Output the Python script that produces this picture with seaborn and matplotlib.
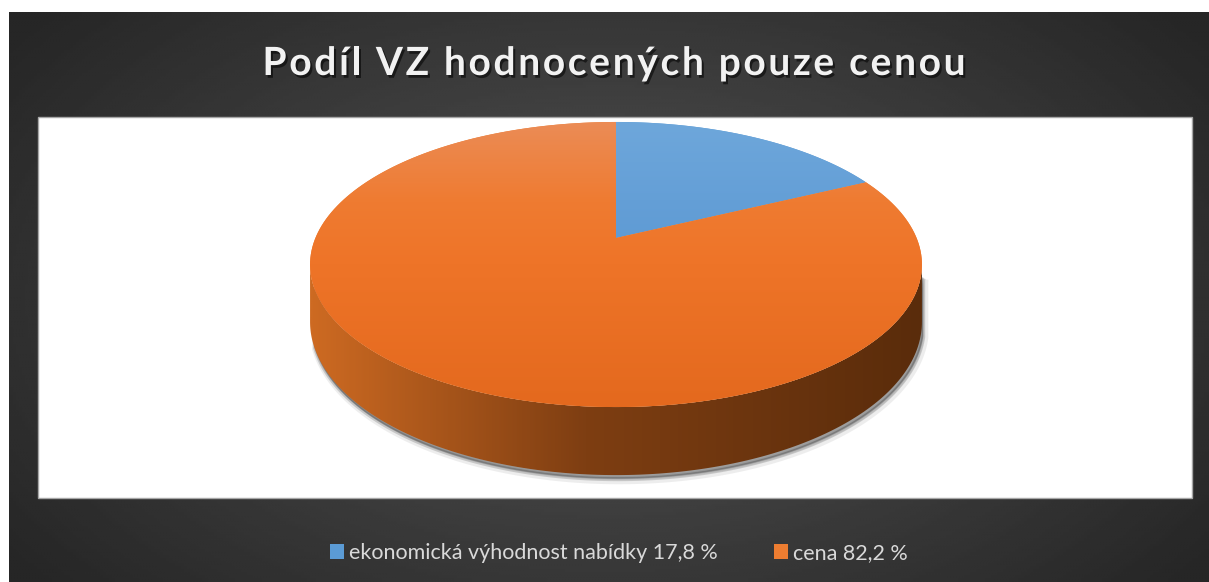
import numpy as np
import matplotlib
matplotlib.use("Agg")
import matplotlib.pyplot as plt
import seaborn as sns
from matplotlib.patches import Polygon, Rectangle, Patch
from matplotlib.colors import LinearSegmentedColormap
from matplotlib.font_manager import FontProperties
import matplotlib.patheffects as pe

# data
labels = ["ekonomická výhodnost nabídky", "cena"]
shares = [17.8, 82.2]
colors = ["#5B9BD5", "#ED7D31"]
title = "Podíl VZ hodnocených pouze cenou"

sns.set_theme(style="white")
plt.rcParams["font.family"] = ["Lato", "DejaVu Sans"]

W, H_PX = 1209, 582
fig = plt.figure(figsize=(W / 100, H_PX / 100), dpi=100, facecolor="white")
ax = fig.add_axes([0, 0, 1, 1])
ax.set_axis_off()

# dark radial background
gx, gy = np.meshgrid(np.linspace(9, W, 400), np.linspace(12, H_PX, 200))
r = np.sqrt(((gx - 610) / 700) ** 2 + ((gy - 300) / 420) ** 2)
bg = np.clip(0.33 - 0.17 * r, 0.15, 0.35)
ax.imshow(bg, extent=[9, W, H_PX, 12], cmap="gray", vmin=0, vmax=1,
          aspect="auto", zorder=0, interpolation="bilinear")

# plot area
ax.add_patch(Rectangle((38, 117), 1154, 381, facecolor="white",
                       edgecolor="#A6A6A6", lw=1, zorder=1))

# 3D pie projection (perspective tilt)
CX, CY, SX, HY, C, T = 616, 238, 300.6, 137.6, 0.186, 55.4


def proj(phi_deg, drop=0.0):
    p = np.radians(phi_deg)
    e, d = np.cos(p), np.sin(p)
    w = 1 + C * d
    return CX + SX * e / w, CY - HY * d / w + drop / w


def arc(a0, a1, n=200, drop=0.0):
    ang = np.linspace(a0, a1, n)
    xs, ys = proj(ang, drop)
    return np.column_stack([xs, ys])


sil = np.degrees(np.arcsin(C))
left_a, right_a = 180 + sil, 360 - sil

# shadow under the side
shadow_pts = np.vstack([arc(left_a + 8, right_a - 4), arc(right_a - 4, left_a + 8, drop=T)])
for dx, dy, lw, a in [(3, 5, 6, 0.10), (2, 4, 3, 0.25), (1.5, 3, 1, 0.35)]:
    ax.add_patch(Polygon(shadow_pts + [dx, dy], closed=True, facecolor="#555555",
                         edgecolor="#555555", lw=lw, alpha=a, zorder=2))

# side band
side = Polygon(np.vstack([arc(left_a, right_a), arc(right_a, left_a, drop=T)]),
               closed=True, facecolor="none", edgecolor="none", zorder=3)
ax.add_patch(side)
side_cmap = LinearSegmentedColormap.from_list(
    "side", [(0, "#CD6A22"), (0.45, "#7E3E12"), (1, "#5A2C0B")])
xgrad = np.linspace(0, 1, 300)[None, :]
xl, _ = proj(left_a)
xr, _ = proj(right_a)
im = ax.imshow(np.repeat(xgrad, 2, axis=0), extent=[xl, xr, 500, 200],
               cmap=side_cmap, aspect="auto", zorder=3, interpolation="bilinear")
im.set_clip_path(side)

# top face wedges
top_grads = {
    "#5B9BD5": [(0, "#6EA7DB"), (1, "#4A8ACB")],
    "#ED7D31": [(0, "#EB8C56"), (0.28, "#EF7B31"), (0.5, "#EE7428"), (1, "#E4691E")],
}
start = 90.0
_, ytop = proj(90)
_, ybot = proj(270)
for lab, val, col in zip(labels, shares, colors):
    sweep = 360 * val / 100
    pts = np.vstack([[CX, CY], arc(start, start - sweep)])
    wedge = Polygon(pts, closed=True, facecolor=col, edgecolor="none", zorder=4)
    ax.add_patch(wedge)
    cm = LinearSegmentedColormap.from_list(lab, top_grads[col])
    ygrad = np.linspace(0, 1, 300)[:, None]
    g = ax.imshow(np.repeat(ygrad, 2, axis=1), extent=[300, 935, ybot, ytop],
                  cmap=cm, aspect="auto", zorder=4, interpolation="bilinear")
    g.set_clip_path(wedge)
    start -= sweep

ax.set_xlim(0, W)
ax.set_ylim(H_PX, 0)

# title with letter spacing, placed char by char
renderer = fig.canvas.get_renderer()
fp = FontProperties(family="Lato", weight="bold", size=28)


def tw(s):
    return renderer.get_text_width_height_descent(s, fp, ismath=False)[0]


target_w = 703
spacing = (target_w - tw(title)) / (len(title) - 1)
x0 = 614 - target_w / 2
shadow = [pe.withSimplePatchShadow(offset=(1.5, -2), shadow_rgbFace="black", alpha=0.55)]
for i, ch in enumerate(title):
    if ch == " ":
        continue
    xi = x0 + tw(title[:i] + "x") - tw("x") + i * spacing
    ax.text(xi, 75, ch, ha="left", va="baseline", fontproperties=fp,
            color="#F2F2F2", zorder=6, path_effects=shadow)

# legend
handles = [Patch(facecolor=c, edgecolor="none") for c in colors]
texts = [f"{l} {v:.1f} %".replace(".", ",") for l, v in zip(labels, shares)]
leg = ax.legend(handles, texts, loc="center", bbox_to_anchor=(619 / W, 1 - 553 / H_PX),
                ncol=2, frameon=False, fontsize=15.5, handlelength=0.65, handleheight=0.65,
                handletextpad=0.25, columnspacing=2.6, labelcolor="#D9D9D9")

fig.savefig("out.png", dpi=100, facecolor="white")
